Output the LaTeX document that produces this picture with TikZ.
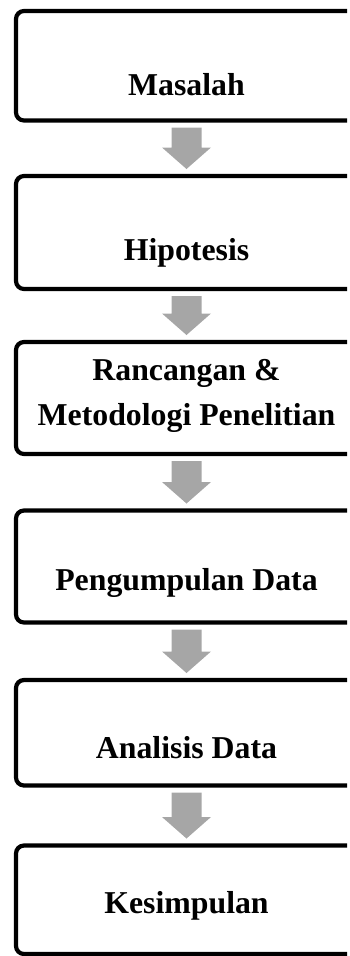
\documentclass[tikz,border=0pt]{standalone}
\usepackage{fontspec}
\setmainfont{Liberation Serif}
\usetikzlibrary{calc}
\definecolor{arrowgray}{HTML}{A6A6A6}

\begin{document}
\begin{tikzpicture}[x=1pt,y=1pt,
  box/.style={draw, line width=4.2pt, rounded corners=8pt, minimum width=360pt,
    outer sep=0pt, inner sep=0pt},
  lbl/.style={font=\fontsize{31.8}{45}\selectfont\bfseries, align=center, inner sep=0pt}]

\useasboundingbox (0,0) rectangle (350,-956);
\clip (0,0) rectangle (347,-956);

% --- Boxes ---
\foreach \name/\top/\bot in {b1/11/120.5,b2/176/289,b3/342/454,b4/510.5/622.5,b5/680/785.5,b6/845.5/954}
  \node[box, minimum height={\bot-\top}] (\name) at (196,{-(\top+\bot)/2}) {};

% --- Labels ---
\node[lbl, anchor=base] (t1) at (186.5,-95) {Masalah};
\node[lbl, anchor=base] (t2) at (186.5,-260) {Hipotesis};
\node[lbl, anchor=base] (t3) at (186.5,-425) {Rancangan \&\\Metodologi Penelitian};
\node[lbl, anchor=base] (t4) at (186.5,-590) {Pengumpulan Data};
\node[lbl, anchor=base] (t5) at (186.5,-758) {Analisis Data};
\node[lbl, anchor=base] (t6) at (186.5,-913) {Kesimpulan};

% --- Arrows ---
\foreach \a/\b in {b1/b2,b2/b3,b3/b4,b4/b5,b5/b6}
  \fill[arrowgray] ($(\a.south)+(-24.5,-7)$) -- ($(\a.south)+(5.5,-7)$)
    -- ($(\b.north)+(5.5,28.5)$) -- ($(\b.north)+(15,28.5)$)
    -- ($(\b.north)+(-9.5,7)$)
    -- ($(\b.north)+(-34,28.5)$) -- ($(\b.north)+(-24.5,28.5)$) -- cycle;

\end{tikzpicture}
\end{document}
